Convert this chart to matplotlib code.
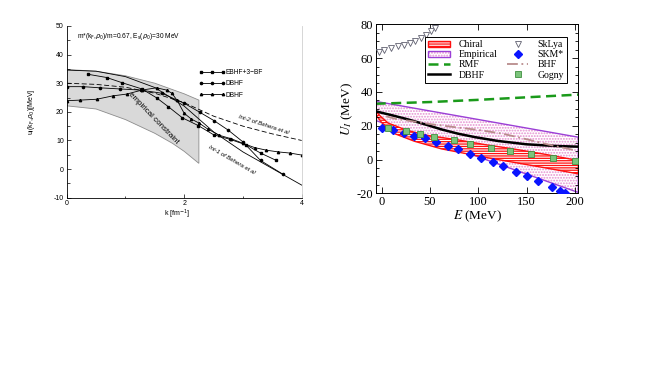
import numpy as np
import matplotlib
matplotlib.use("Agg")
import matplotlib.pyplot as plt

plt.rcParams['axes.unicode_minus'] = False
plt.rcParams['hatch.linewidth'] = 0.9

# ---- left panel: u_I(k, rho_0) vs k ----
band_k_up = [0, 0.5, 1.0, 1.5, 2.0, 2.25]
band_u_up = [34.8, 34.2, 32.6, 30.0, 26.3, 24.1]
band_k_lo = [0, 0.5, 1.0, 1.5, 1.8, 2.0, 2.25]
band_u_lo = [22.1, 21.0, 17.3, 12.5, 9.0, 6.2, 2.0]

ebhf_k = [0.37, 0.68, 0.94, 1.28, 1.53, 1.73, 1.97, 2.24, 2.5, 2.78, 3.06, 3.3, 3.56]
ebhf_u = [33.1, 32.0, 30.2, 28.0, 24.9, 21.8, 17.9, 15.2, 12.0, 10.4, 8.4, 5.6, 3.1]

dbhf1_k = [0, 0.28, 0.56, 0.91, 1.26, 1.62, 2.0, 2.27, 2.51, 2.75, 3.0, 3.3, 3.68]
dbhf1_u = [28.8, 28.8, 28.4, 28.0, 27.6, 26.5, 23.0, 19.8, 16.9, 13.6, 9.5, 3.0, -1.8]

dbhf2_k = [0, 0.23, 0.51, 0.79, 1.02, 1.28, 1.53, 1.70, 1.79, 1.88, 2.0, 2.12, 2.26,
           2.4, 2.6, 2.8, 3.0, 3.2, 3.4, 3.6, 3.8, 4.0]
dbhf2_u = [23.9, 24.1, 24.4, 25.6, 26.2, 27.6, 28.4, 27.6, 26.5, 24.0, 19.5, 17.5, 16.0,
           14.0, 11.8, 10.6, 9.0, 7.5, 6.6, 6.0, 5.6, 4.9]

int1_k = [0, 0.5, 1.0, 1.5, 2.0, 2.25, 2.5, 3.0, 3.5, 4.0]
int1_u = [34.6, 34.2, 32.3, 28.5, 22.0, 17.5, 13.0, 6.0, 0.2, -5.6]

int2_k = [0, 0.5, 1.0, 1.5, 2.0, 2.5, 3.0, 3.5, 4.0]
int2_u = [30.0, 29.6, 28.6, 26.5, 23.2, 18.5, 15.0, 12.3, 10.0]

# ---- right panel: U_I vs E ----
E_chiral_up = [-6, 0, 7, 15, 25, 45, 80, 107, 136, 170, 203.5]
U_chiral_up = [28.5, 25.0, 21.5, 19.8, 17.5, 14.5, 11.5, 8.8, 6.3, 3.0, -0.6]
E_chiral_lo = [-6, 0, 7, 14, 34, 62, 90, 110, 136, 170, 203.5]
U_chiral_lo = [26.5, 22.0, 18.3, 15.2, 10.8, 6.3, 3.2, 1.0, -1.6, -5.0, -8.5]

E_emp = [-6, 203.5]
U_emp_up = [34.4, 13.2]
U_emp_lo = [23.1, -19.5]

E_rmf = [-6, 0, 50, 100, 150, 203.5]
U_rmf = [33.0, 33.1, 34.0, 35.3, 36.8, 38.4]

E_dbhf = [-6, 10, 27, 45, 62, 79, 97, 120, 150, 180, 203.5]
U_dbhf = [28.5, 26.3, 23.8, 20.8, 17.8, 15.3, 13.2, 11.0, 9.0, 8.0, 7.6]

E_bhf = [5, 15, 30, 50, 75, 100, 125, 150, 175, 200]
U_bhf = [25.5, 24.0, 22.8, 21.0, 19.2, 17.5, 15.3, 12.0, 8.5, 5.5]

E_sklya = [-3, 3, 10, 17, 23, 29, 35, 41, 46, 51, 55]
U_sklya = [63.5, 64.8, 65.9, 67.0, 68.0, 69.0, 70.1, 71.6, 73.5, 76.0, 78.0]

E_skm = [1, 12, 23, 34, 45, 56, 69, 79, 92, 103, 115, 126, 139, 150, 162, 176, 185, 190]
U_skm = [18.5, 17.2, 15.5, 13.8, 12.5, 10.2, 8.1, 6.1, 3.4, 1.0, -1.6, -4.0, -7.1,
         -9.9, -12.9, -16.5, -18.8, -20.0]

E_gogny = [7, 25, 40, 54, 75, 92, 113, 133, 155, 177, 200]
U_gogny = [18.8, 16.6, 15.2, 13.2, 11.3, 9.3, 6.9, 5.3, 3.4, 1.0, -1.0]

fig = plt.figure(figsize=(6.67, 3.75), dpi=100)

# left
sans = 'Liberation Sans'
ax1 = fig.add_axes([0.1, 0.4728, 0.3523, 0.4579])
band_x = band_k_up + band_k_lo[::-1]
band_y = band_u_up + band_u_lo[::-1]
ax1.fill(band_x, band_y, facecolor='#d9d9d9', edgecolor='#8c8c8c', lw=0.6, zorder=1)
ax1.plot(int1_k, int1_u, color='black', lw=0.6, zorder=2)
ax1.plot(int2_k, int2_u, color='black', lw=0.6, ls=(0, (6, 3)), zorder=2)
l1, = ax1.plot(ebhf_k, ebhf_u, 'k-s', lw=0.6, ms=1.5, label='EBHF+3\u2212BF')
l2, = ax1.plot(dbhf1_k, dbhf1_u, 'k-o', lw=0.6, ms=1.6, label='DBHF')
l3, = ax1.plot(dbhf2_k, dbhf2_u, 'k-^', lw=0.6, ms=1.7, label='DBHF')
ax1.legend(handles=[l1, l2, l3], loc='upper left', bbox_to_anchor=(0.565, 0.75),
           frameon=False, handlelength=3.8, handletextpad=0.15,
           labelspacing=0.65, borderpad=0, borderaxespad=0, numpoints=3,
           prop={'family': sans, 'size': 4.8})
ax1.set_xlim(0, 4)
ax1.set_ylim(-10, 50)
ax1.set_xticks([0, 2, 4])
ax1.set_xticks([1, 3], minor=True)
ax1.set_yticks(range(-10, 51, 10))
ax1.set_yticks(range(-5, 50, 10), minor=True)
ax1.tick_params(which='both', direction='in', labelsize=5, width=0.5, pad=2)
ax1.tick_params(which='major', length=3)
ax1.tick_params(which='minor', length=1.8)
for lab in ax1.get_xticklabels() + ax1.get_yticklabels():
    lab.set_family(sans)
ax1.spines['top'].set_visible(False)
ax1.spines['right'].set_color('#d0d0d0')
ax1.spines['left'].set_linewidth(0.6)
ax1.spines['bottom'].set_linewidth(0.6)
ax1.spines['right'].set_linewidth(0.6)
ax1.set_xlabel(r'k [fm$^{-1}$]', family=sans, fontsize=5, math_fontfamily='dejavusans')
ax1.xaxis.set_label_coords(0.47, -0.06)
ax1.set_ylabel(r'u$_{\rm I}$(k$_{\rm F}$,$\rho_0$)[MeV]', family=sans, fontsize=5,
               math_fontfamily='dejavusans')
ax1.yaxis.set_label_coords(-0.125, 0.5)
ax1.text(0.043, 0.938, r'm*(k$_{\rm F}$,$\rho_0$)/m=0.67, E$_{\rm s}$($\rho_0$)=30 MeV',
         transform=ax1.transAxes, family=sans, fontsize=4.8, va='center',
         math_fontfamily='dejavusans')
ax1.text(1.47, 17.8, 'empirical constraint', rotation=-46, family=sans, fontsize=5.8,
         ha='center', va='center')
ax1.text(3.35, 15.6, 'Int-2 of Behera et al', rotation=-18, family=sans, fontsize=4.3,
         style='italic', ha='center', va='center')
ax1.text(2.81, 3.3, 'Int-1 of Behera et al', rotation=-30, family=sans, fontsize=4.3,
         style='italic', ha='center', va='center')

# right
serif = 'Liberation Serif'
ax2 = fig.add_axes([0.5633, 0.4845, 0.3037, 0.4507])
emp_x = E_emp + E_emp[::-1]
emp_y = U_emp_up + U_emp_lo[::-1]
emp_fill, = ax2.fill(emp_x, emp_y, facecolor='white', edgecolor='#e58fd0', hatch='......',
                     lw=0, zorder=1)
emp_edge, = ax2.fill(emp_x, emp_y, facecolor='none', edgecolor='#9b3fd6', lw=1.0, zorder=1.2)
ch_x = E_chiral_up + E_chiral_lo[::-1]
ch_y = U_chiral_up + U_chiral_lo[::-1]
chiral, = ax2.fill(ch_x, ch_y, facecolor='white', edgecolor='#ff1010', hatch='-------',
                   lw=1.0, zorder=1.5)
rmf, = ax2.plot(E_rmf, U_rmf, color='#1a9a1a', lw=1.8, ls=(0, (4, 2.2)), zorder=2)
dbhf, = ax2.plot(E_dbhf, U_dbhf, color='black', lw=1.8, zorder=2)
bhf, = ax2.plot(E_bhf, U_bhf, color='#b98c8c', lw=1.3, ls=(0, (6, 2, 1, 2)), zorder=2)
sklya, = ax2.plot(E_sklya, U_sklya, ls='none', marker='v', ms=4, mfc='white',
                  mec='#606070', mew=0.6, zorder=3, clip_on=False)
skm, = ax2.plot(E_skm, U_skm, ls='none', marker='D', ms=3.6, mfc='#0a14ff', mec='#0a14ff',
                zorder=3)
gogny, = ax2.plot(E_gogny, U_gogny, ls='none', marker='s', ms=4.2, mfc='#7cc47c',
                  mec='#3f8f3f', mew=0.6, zorder=3.1)
ax2.set_xlim(-6, 203.5)
ax2.set_ylim(-20, 80)
ax2.set_xticks(range(0, 201, 50))
ax2.set_yticks(range(-20, 81, 20))
ax2.set_yticks(range(-15, 80, 5), minor=True)
ax2.tick_params(which='both', direction='in', top=True, right=True, labelsize=9, width=0.6)
ax2.tick_params(which='major', length=4, pad=2)
ax2.tick_params(which='minor', length=2)
for lab in ax2.get_xticklabels() + ax2.get_yticklabels():
    lab.set_family(serif)
for s in ax2.spines.values():
    s.set_linewidth(0.7)
ax2.set_xlabel(r'$E$ (MeV)', family=serif, fontsize=9.5, math_fontfamily='stix', labelpad=0)
ax2.set_ylabel(r'$U_I$ (MeV)', family=serif, fontsize=9.5, math_fontfamily='stix', labelpad=1)
leg = ax2.legend([chiral, (emp_fill, emp_edge), rmf, dbhf, sklya, skm, bhf, gogny],
                 ['Chiral', 'Empirical', 'RMF', 'DBHF', 'SkLya', 'SKM*', 'BHF', 'Gogny'],
                 ncol=2, loc='upper left', bbox_to_anchor=(0.243, 0.927),
                 prop={'family': serif, 'size': 7}, fancybox=False, edgecolor='black',
                 framealpha=1, borderaxespad=0, handlelength=2.2, handleheight=0.55,
                 labelspacing=0.12, columnspacing=1.0, handletextpad=0.9, borderpad=0.35)
leg.get_frame().set_linewidth(0.7)

fig.savefig('out.png', dpi=100)
